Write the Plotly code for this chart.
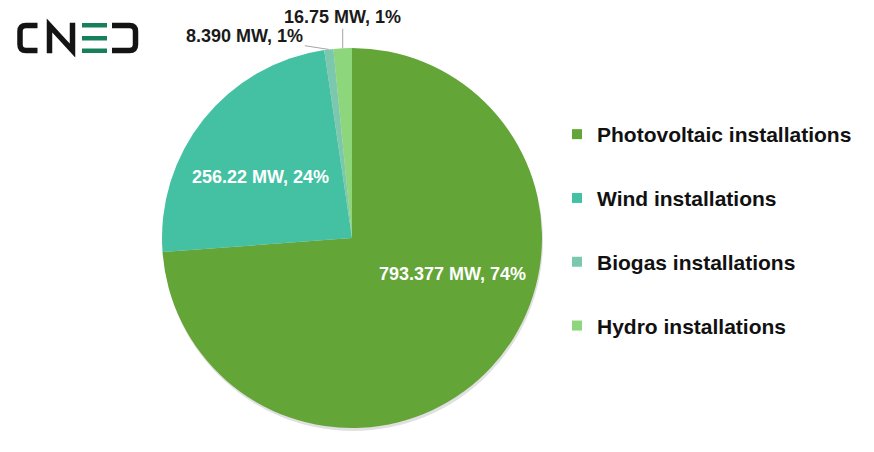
import math
import plotly.graph_objects as go

labels = ["Photovoltaic installations", "Wind installations", "Biogas installations", "Hydro installations"]
values = [793.377, 256.22, 8.390, 16.75]
value_text = ["793.377", "256.22", "8.390", "16.75"]
pct_text = ["74%", "24%", "1%", "1%"]
colors = ["#63A537", "#44C1A3", "#7CC8AE", "#8DD67C"]

# page has an 8px body margin, so the figure is offset by (8, 8) in the window
OFF = 8
W, H = 874 - OFF, 452 - OFF
FONT = "Liberation Sans, Arial, sans-serif"

def px(x):
    return (x - OFF) / W

def py(y):
    return 1 - (y - OFF) / H

def P(x, y):
    return f"{px(x):.5f},{py(y):.5f}"

# pie geometry (window pixels)
cx, cy, R = 352, 238, 190

texts = [f"{v} MW, {p}" for v, p in zip(value_text, pct_text)]

fig = go.Figure()
fig.add_trace(go.Pie(
    labels=labels, values=values, text=texts,
    textinfo="none",
    marker=dict(colors=colors, line=dict(width=0)),
    sort=False, direction="clockwise", rotation=0,
    domain=dict(x=[px(cx - R), px(cx + R)], y=[py(cy + R), py(cy - R)]),
    showlegend=False, hoverinfo="label+value+percent",
))

# legend entries
for lab, col in zip(labels, colors):
    fig.add_trace(go.Scatter(
        x=[None], y=[None], mode="markers", name=lab, legendgroup=lab,
        marker=dict(symbol="square", size=10, color=col),
    ))

# data label placement (layout): inside labels at fixed spots, outside ones with leader lines
inside_spot = {0: (452, 274), 1: (260.5, 177)}
outside_offset = {2: (-84, -13), 3: (0, -31)}

total = sum(values)
cum = 0.0
annotations = []
for i, v in enumerate(values):
    frac = v / total
    mid = cum + frac / 2
    cum += frac
    if i in inside_spot:
        x, y = inside_spot[i]
        annotations.append(dict(
            x=px(x), y=py(y), xref="paper", yref="paper", showarrow=False,
            text=f"<b>{texts[i]}</b>", xanchor="center", yanchor="middle",
            font=dict(family=FONT, size=18, color="white"),
        ))
    else:
        th = 2 * math.pi * mid
        ex = cx + R * math.sin(th)
        ey = cy - R * math.cos(th)
        ax, ay = outside_offset[i]
        annotations.append(dict(
            x=px(ex), y=py(ey), xref="paper", yref="paper",
            text=f"<b>{texts[i]}</b>", showarrow=True, arrowhead=0,
            arrowwidth=1, arrowcolor="#A6A6A6", ax=ax, ay=ay, standoff=0,
            font=dict(family=FONT, size=18, color="#1a1a1a"),
        ))

shapes = []
# soft shadow under the pie
shapes.append(dict(type="circle", xref="paper", yref="paper", layer="below",
                   x0=px(cx - R + 1), x1=px(cx + R + 1), y0=py(cy + R + 3), y1=py(cy - R + 3),
                   fillcolor="rgba(0,0,0,0.12)", line=dict(width=0)))

# CNED logo
blk = "#141414"
grn = "#16805A"
lw = 5.5
shapes.append(dict(type="path", xref="paper", yref="paper",
                   path=f"M {P(37.5,25.5)} L {P(26,25.5)} Q {P(20,25.5)} {P(20,31.5)} L {P(20,44.5)} Q {P(20,50.5)} {P(26,50.5)} L {P(37.5,50.5)}",
                   line=dict(color=blk, width=lw)))
shapes.append(dict(type="path", xref="paper", yref="paper",
                   path=f"M {P(49.5,53.3)} L {P(49.5,25.5)} L {P(72.5,50.5)} L {P(72.5,22.7)}",
                   line=dict(color=blk, width=lw)))
for y0, y1 in [(23, 27.5), (36, 40.5), (48.5, 53)]:
    shapes.append(dict(type="rect", xref="paper", yref="paper",
                       x0=px(82), x1=px(107), y0=py(y1), y1=py(y0),
                       fillcolor=grn, line=dict(width=0)))
shapes.append(dict(type="path", xref="paper", yref="paper",
                   path=f"M {P(112,25.5)} L {P(129.5,25.5)} Q {P(135.5,25.5)} {P(135.5,31.5)} L {P(135.5,44.5)} Q {P(135.5,50.5)} {P(129.5,50.5)} L {P(112,50.5)}",
                   line=dict(color=blk, width=lw)))

fig.update_layout(
    width=W, height=H,
    margin=dict(l=0, r=0, t=0, b=0),
    paper_bgcolor="white", plot_bgcolor="white",
    xaxis=dict(visible=False), yaxis=dict(visible=False),
    showlegend=True,
    legend=dict(x=px(557), y=py(114), xanchor="left", yanchor="top",
                font=dict(family=FONT, size=21, color="#111111", weight="bold"),
                tracegroupgap=33.5, traceorder="grouped", bgcolor="rgba(0,0,0,0)"),
    annotations=annotations, shapes=shapes,
)

fig.write_html("out.html")
